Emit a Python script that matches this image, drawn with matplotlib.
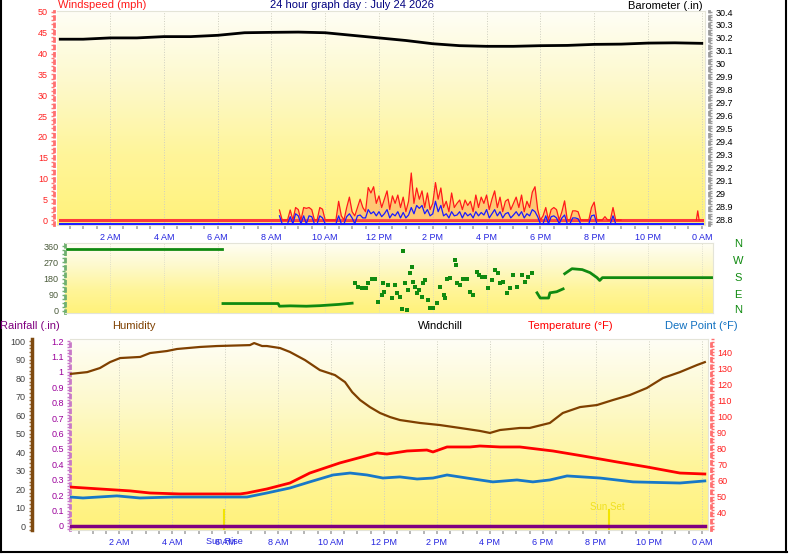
import numpy as np
import matplotlib
matplotlib.use('Agg')
import matplotlib.pyplot as plt
import matplotlib.transforms as mtransforms
from matplotlib.colors import LinearSegmentedColormap
from matplotlib.ticker import MultipleLocator, FixedLocator, FuncFormatter
from matplotlib.lines import Line2D

plt.rcParams['font.family'] = ['Liberation Sans', 'DejaVu Sans']

W, H = 798, 554

# ---------------- data ----------------
hour_ticks = [2, 4, 6, 8, 10, 12, 14, 16, 18, 20, 22, 24]
hour_labels = ['2 AM', '4 AM', '6 AM', '8 AM', '10 AM', '12 PM', '2 PM',
               '4 PM', '6 PM', '8 PM', '10 PM', '0 AM']

# barometer (in)
baro_time = [0.15, 1, 2, 3, 4, 5, 6, 7, 8, 9, 10, 11, 12, 13, 14, 15, 16,
             17, 18, 19, 20, 21, 22, 23, 24]
baro = [30.19, 30.19, 30.20, 30.20, 30.21, 30.21, 30.22, 30.24, 30.243,
        30.245, 30.24, 30.22, 30.20, 30.18, 30.155, 30.14, 30.135, 30.135,
        30.14, 30.142, 30.15, 30.152, 30.16, 30.162, 30.158]

# wind samples every 0.1 h from 8.3 h to 21.0 h (mph)
wind_start, wind_step = 8.3, 0.1
gust = [2.4, 0, 0, 0, 2.4, 0, 3,
        2.5, 0, 3, 2.8, 3, 2.5, 0, 0, 3, 2.6,
        0, 0, 0, 0, 0, 4.5, 1, 0, 3, 5.5,
        2, 1, 3, 5, 3, 2, 7.8, 6.5, 8, 4,
        5.8, 3, 5, 7, 2.5, 5.8, 4, 6, 3, 5.5,
        2, 4.5, 11.3, 4, 7.7, 5, 7, 3, 6.5, 2.5,
        4, 9, 5, 7.7, 3, 4.5, 2, 6.5, 3, 4,
        4.8, 2.5, 4.8, 3.5, 4.5, 2, 6, 3, 5.5, 4,
        6, 2.5, 5, 7, 3, 5.5, 2, 4.5, 5, 2.5,
        4, 5.5, 3, 6, 2, 4.5, 3, 6.7, 8, 2.5,
        0, 1, 3, 0, 2.5, 3, 2.5, 0, 2, 4.6,
        0, 0, 2.2, 2.2, 2, 0, 0, 0, 0, 3,
        4.3, 0, 0, 0, 0.8, 0, 0, 3, 0, 0,
        0]
speed = [1, 0, 0, 0, 0.8, 0, 1.5,
         1, 0, 1, 0, 1, 0.8, 0, 0, 1, 0.5,
         0, 0, 0, 0, 0, 1, 0, 0, 0.8, 1.5,
         0.5, 0, 1, 1.2, 0.5, 0.5, 2.5, 1.5, 2, 1,
         2, 0.8, 1.5, 2.5, 0.5, 1.5, 1, 2, 0.5, 1.8,
         0.5, 1.2, 3, 1.5, 3.5, 2.8, 3.5, 1.5, 2.5, 1,
         1.5, 4.5, 2, 3.5, 1, 1.5, 0.5, 2, 1, 1.2,
         2, 0.5, 1.8, 1, 1.5, 0.5, 2, 1, 1.8, 1.2,
         2.5, 0.5, 1.5, 2.5, 1, 2, 0.5, 1.5, 1.8, 0.5,
         1.2, 2, 1, 2, 0.5, 1.5, 1, 2.5, 2, 0.8,
         0, 0, 1, 0, 0.8, 1, 0.5, 0, 0.5, 1.2,
         0, 0, 0.5, 0.5, 0.3, 0, 0, 0, 0, 1,
         1.2, 0, 0, 0, 0, 0, 0, 1, 0, 0,
         0]
late_gust_time = [23.8, 23.85, 23.9]
late_gust = [0, 2.2, 0]

# wind direction (degrees)
dir_early_time = [0.4, 6.15]
dir_early = [343, 343]
dir_morning_time = [6.2, 8.25, 8.3, 8.7, 9.3, 9.8, 10.5, 11.0]
dir_morning = [40, 40, 25, 27, 25, 28, 35, 42]
dir_dots_time = [11.1, 11.2, 11.35, 11.5, 11.6, 11.73, 11.85, 11.97, 12.1, 12.15,
                 12.2, 12.33, 12.48, 12.6, 12.67, 12.78, 12.85, 12.9, 12.97, 13.03,
                 13.08, 13.15, 13.23, 13.27, 13.33, 13.4, 13.5, 13.6, 13.63, 13.7,
                 13.82, 13.9, 14.0, 14.15, 14.27, 14.4, 14.45, 14.52, 14.64, 14.83,
                 14.86, 14.9, 15.0, 15.13, 15.27, 15.38, 15.5, 15.65, 15.7, 15.83,
                 15.94, 16.05, 16.2, 16.3, 16.42, 16.5, 16.6, 16.75, 16.87, 16.98,
                 17.13, 17.32, 17.42, 17.53, 17.7]
dir_dots = [156, 135, 128, 128, 156, 179, 179, 49, 88, 156,
            106, 145, 71, 145, 100, 77, 10, 332, 156, 4,
            117, 213, 247, 162, 135, 100, 117, 77, 156, 173,
            60, 16, 16, 43, 135, 88, 71, 179, 185, 286,
            258, 156, 145, 179, 179, 106, 88, 219, 202, 190,
            190, 128, 173, 230, 213, 156, 162, 100, 128, 202,
            135, 202, 162, 190, 213]
dir_evening_time = [17.87, 17.99, 18.3, 18.35, 18.6, 18.84]
dir_evening = [100, 71, 71, 100, 106, 122]
dir_night_time = [18.9, 19.17, 19.55, 19.84, 20.1, 20.2, 20.3, 24.4]
dir_night = [207, 235, 230, 213, 185, 169, 185, 185]
compass = ['N', 'W', 'S', 'E', 'N']

# bottom panel
hum_time = [0.15, 0.8, 1.28, 1.66, 2.04, 2.8, 3.17, 3.81, 4.19, 5.06, 5.7, 6.94,
            7.1, 7.4, 7.58, 8.08, 8.45, 9.02, 9.58, 10.15, 10.53, 10.8, 11.1,
            11.47, 11.85, 12.23, 12.6, 13.36, 14.1, 14.87, 15.62, 16.0, 16.38,
            17.13, 17.5, 18.26, 18.75, 19.4, 20.04, 20.64, 21.28, 21.92, 22.53,
            23.17, 23.81, 24.11]
humidity = [82.2, 83.2, 85.4, 88.6, 90.8, 91.4, 93.5, 94.6, 95.7, 96.8, 97.3,
            97.8, 98.9, 97.3, 97.3, 96.2, 94.1, 89.7, 84.3, 81.6, 77.8, 72.4,
            68.1, 64.3, 61.1, 58.9, 57.3, 55.7, 54.6, 53.0, 51.4, 50.3, 51.9,
            53.0, 53.0, 55.7, 61.1, 64.3, 65.4, 68.1, 70.8, 74.6, 80.0, 83.2,
            87.0, 88.6]
temp_time = [0.15, 1.28, 2.42, 3.17, 4.3, 6.57, 6.83, 7.58, 8.45, 9.2, 10.34,
             11.74, 12.11, 12.87, 13.62, 13.85, 14.38, 15.25, 15.62, 16.38,
             17.13, 18.38, 19.51, 20.79, 21.92, 23.17, 24.11]
temperature = [56.1, 54.9, 53.7, 52.4, 51.8, 51.8, 52.4, 54.9, 58.6, 64.8, 71.1,
               77.3, 76.6, 78.5, 79.1, 77.9, 81.0, 81.0, 81.6, 81.0, 81.0, 78.5,
               75.4, 71.7, 68.6, 64.8, 64.2]
dew_time = [0.15, 0.64, 1.92, 2.79, 4.04, 5.7, 6.83, 7.58, 8.45, 9.2, 10.08,
            10.72, 11.36, 11.96, 12.6, 13.25, 13.85, 14.38, 15.13, 16.11, 17.02,
            17.62, 18.26, 18.91, 20.15, 21.4, 23.17, 24.11]
dewpoint = [49.9, 49.3, 50.6, 49.3, 49.9, 49.9, 49.9, 52.4, 55.5, 59.3, 63.6,
            64.8, 63.6, 61.7, 62.4, 61.1, 61.7, 63.6, 61.7, 59.3, 60.5, 59.3,
            60.5, 63.0, 61.7, 59.3, 58.6, 59.9]
rain_time = [0.15, 24.11]
rain = [0, 0]
sunrise, sunset = 5.96, 20.49

# ---------------- style helpers ----------------
bg_cmap = LinearSegmentedColormap.from_list(
    'bg', ['#fffef6', '#fdf9cc', '#fff59a', '#fff27a'])
xlab_color = '#2424e0'


def fig_rect(left, top, right, bottom):
    return [left / W, 1 - bottom / H, (right - left) / W, (bottom - top) / H]


def add_background(rect):
    bg = fig.add_axes(rect)
    grad = np.linspace(0, 1, 256).reshape(-1, 1)
    bg.imshow(grad, aspect='auto', cmap=bg_cmap, extent=[0, 1, 0, 1],
              origin='upper')
    bg.set_axis_off()
    return bg


def style_frame(ax):
    for s in ('top', 'bottom', 'left', 'right'):
        ax.spines[s].set_color('#e4e4d8')
        ax.spines[s].set_linewidth(0.8)


def hour_axis(ax):
    ax.xaxis.set_major_locator(FixedLocator(hour_ticks))
    ax.xaxis.set_minor_locator(MultipleLocator(0.5))
    ax.set_xticklabels(hour_labels)
    ax.tick_params(axis='x', which='both', colors='#a8a8a8', length=3,
                   width=1.2, labelsize=6.5, labelcolor=xlab_color, pad=3)
    ax.grid(axis='x', which='major', color='#cfcfc0', ls=':', lw=0.7)


def num_fmt(v, pos):
    return f'{round(v, 2):g}'


fig = plt.figure(figsize=(W / 100, H / 100), dpi=100)
fig.patch.set_facecolor('white')

# ---------------- top panel: wind + barometer ----------------
r1 = fig_rect(57, 11, 705, 225)
add_background(r1)
ax1 = fig.add_axes(r1)
ax1.patch.set_visible(False)
style_frame(ax1)
ax1.set_xlim(0.03, 24.12)
ax1.set_ylim(-1.2, 50.24)
hour_axis(ax1)
ax1.spines['left'].set_position(('outward', 2))
ax1.spines['left'].set_color('#ff7070')
ax1.spines['left'].set_linestyle(':')
ax1.spines['left'].set_linewidth(2)
ax1.yaxis.set_major_locator(MultipleLocator(5))
ax1.yaxis.set_minor_locator(MultipleLocator(1))
ax1.tick_params(axis='y', which='both', colors='#ff7a7a', labelcolor='#ff2020',
                labelsize=6.5, length=2.5, width=1.0, pad=2)

wind_time = wind_start + wind_step * np.arange(len(gust))
gust_arr = np.array(gust)
speed_arr = np.array(speed)
ax1.plot([0.15, 24.0], [0, 0], color='#ff3a3a', lw=2.2, zorder=3)
ax1.plot([0.15, 24.0], [-0.9, -0.9], color='#2020ff', lw=2.2, zorder=3)
ax1.fill_between(wind_time, 0, gust_arr, color='#ff7a5a', alpha=0.35, lw=0,
                 zorder=3)
ax1.plot(wind_time, gust_arr, color='#ff1a1a', lw=0.9, zorder=4)
ax1.plot(late_gust_time, late_gust, color='#ff1a1a', lw=0.9, zorder=4)
ax1.plot(wind_time, np.where(speed_arr > 0, speed_arr, -0.9),
         color='#1a1aff', lw=0.9, zorder=5)

ax1b = ax1.twinx()
ax1b.set_ylim(28.754, 30.408)
ax1b.plot(baro_time, baro, color='black', lw=2, zorder=4)
for s in ('top', 'bottom', 'left'):
    ax1b.spines[s].set_visible(False)
ax1b.spines['right'].set_position(('outward', 3))
ax1b.spines['right'].set_color('#9a9a9a')
ax1b.spines['right'].set_linestyle(':')
ax1b.spines['right'].set_linewidth(2)
ax1b.yaxis.set_major_locator(MultipleLocator(0.1))
ax1b.yaxis.set_minor_locator(MultipleLocator(0.02))
ax1b.yaxis.set_major_formatter(FuncFormatter(num_fmt))
ax1b.tick_params(axis='y', which='both', colors='#9a9a9a', labelcolor='black',
                 labelsize=6.5, length=2.5, width=1.0, pad=2)

fig.text(58 / W, 1 - 5 / H, 'Windspeed (mph)', color='#ff1a1a', fontsize=8,
         ha='left', va='center')
fig.text(352 / W, 1 - 5 / H, '24 hour graph day : July 24 2026', color='#000080',
         fontsize=8, ha='center', va='center')
fig.text(628 / W, 1 - 6 / H, 'Barometer (.in)', color='black', fontsize=8,
         ha='left', va='center')

# ---------------- middle panel: wind direction ----------------
r2 = fig_rect(65, 243, 713, 313)
add_background(r2)
ax2 = fig.add_axes(r2)
ax2.patch.set_visible(False)
style_frame(ax2)
ax2.set_xlim(0.33, 24.41)
ax2.set_ylim(-13, 379)
ax2.xaxis.set_major_locator(FixedLocator(hour_ticks))
ax2.tick_params(axis='x', which='both', length=0, labelbottom=False)
ax2.grid(axis='x', color='#d6d6c6', ls=':', lw=0.6)
ax2.spines['left'].set_color('#70b070')
ax2.spines['left'].set_linestyle(':')
ax2.spines['left'].set_linewidth(2)
ax2.yaxis.set_major_locator(FixedLocator([0, 90, 180, 270, 360]))
ax2.yaxis.set_minor_locator(MultipleLocator(22.5))
ax2.tick_params(axis='y', which='both', colors='#70b070', labelcolor='#4a5a3a',
                labelsize=6.5, length=2.5, width=1.0, pad=2)
green = '#108a10'
ax2.plot(dir_early_time, dir_early, color=green, lw=2)
ax2.plot(dir_morning_time, dir_morning, color=green, lw=2)
ax2.plot(dir_dots_time, dir_dots, ls='none', marker='s', ms=2.3, mew=0,
         color=green)
ax2.plot(dir_evening_time, dir_evening, color=green, lw=2)
ax2.plot(dir_night_time, dir_night, color=green, lw=2)
for lab, py in zip(compass, [244, 261, 278, 295, 310]):
    fig.text(738 / W, 1 - py / H, lab, color='#108a10', fontsize=8,
             ha='center', va='center')

# ---------------- bottom panel ----------------
r3 = fig_rect(70, 339, 708, 530)
add_background(r3)
ax3 = fig.add_axes(r3)
ax3.patch.set_visible(False)
style_frame(ax3)
ax3.set_xlim(0.15, 24.23)
ax3.set_ylim(-0.026, 1.213)
hour_axis(ax3)
ax3.spines['left'].set_color('#c878c8')
ax3.spines['left'].set_linestyle(':')
ax3.spines['left'].set_linewidth(2)
ax3.yaxis.set_major_locator(MultipleLocator(0.1))
ax3.yaxis.set_minor_locator(MultipleLocator(0.02))
ax3.yaxis.set_major_formatter(FuncFormatter(num_fmt))
ax3.tick_params(axis='y', which='both', colors='#c878c8', labelcolor='#9b009b',
                labelsize=6.5, length=2.5, width=1.0, pad=2)
ax3.plot(rain_time, rain, color='#800080', lw=2.5, zorder=5)

# sunrise / sunset markers
tr = mtransforms.blended_transform_factory(ax3.transData, ax3.transAxes)
ax3.plot([sunrise, sunrise], [0, 0.105], transform=tr, color='#f2e400', lw=1.5)
ax3.plot([sunset, sunset], [0, 0.105], transform=tr, color='#f2e400', lw=1.5)
ax3.text(sunrise, -0.058, 'Sun Rise', transform=tr, ha='center', va='center',
         fontsize=6.5, color=xlab_color)
ax3.text(sunset - 0.07, 0.12, 'Sun Set', transform=tr, ha='center', va='center',
         fontsize=7, color='#f0e020')

# humidity axis (far left)
ax3h = ax3.twinx()
ax3h.set_ylim(-2.16, 101.1)
for s in ('top', 'bottom', 'right'):
    ax3h.spines[s].set_visible(False)
ax3h.spines['left'].set_visible(True)
ax3h.spines['left'].set_position(('axes', -38 / 638))
ax3h.spines['left'].set_color('#7f4a10')
ax3h.spines['left'].set_linewidth(2.5)
ax3h.yaxis.set_ticks_position('left')
ax3h.yaxis.set_label_position('left')
ax3h.yaxis.set_major_locator(MultipleLocator(10))
ax3h.yaxis.set_minor_locator(MultipleLocator(2))
ax3h.tick_params(axis='y', which='both', colors='#9a7040', labelcolor='#404040',
                 labelsize=6.5, length=2.5, width=1.0, pad=2)
ax3h.plot(hum_time, humidity, color='#7f4000', lw=1.6, zorder=4)

# temperature axis (right)
ax3t = ax3.twinx()
ax3t.set_ylim(29.4, 148.1)
for s in ('top', 'bottom', 'left'):
    ax3t.spines[s].set_visible(False)
ax3t.spines['right'].set_position(('outward', 2))
ax3t.spines['right'].set_color('#ff7070')
ax3t.spines['right'].set_linestyle(':')
ax3t.spines['right'].set_linewidth(2)
ax3t.yaxis.set_major_locator(FixedLocator(list(range(40, 150, 10))))
ax3t.yaxis.set_minor_locator(MultipleLocator(2))
ax3t.tick_params(axis='y', which='both', colors='#ff7070', labelcolor='#ff2020',
                 labelsize=6.5, length=2.5, width=1.0, pad=2)
ax3t.plot(temp_time, temperature, color='#ff0000', lw=2, zorder=4)
ax3t.plot(dew_time, dewpoint, color='#1878c8', lw=2, zorder=4)

for label, px, color in [('Rainfall (.in)', 0, '#800080'),
                         ('Humidity', 112, '#7f4000'),
                         ('Windchill', 418, 'black'),
                         ('Temperature (°F)', 528, '#ff0000'),
                         ('Dew Point (°F)', 665, '#1070c0')]:
    fig.text(px / W, 1 - 326 / H, label, color=color, fontsize=8,
             ha='left', va='center')

# outer frame
for xs, ys in [([1, 1], [0, 552]), ([0, 787], [552, 552]), ([786, 786], [0, 552])]:
    fig.add_artist(Line2D([x / W for x in xs], [1 - y / H for y in ys],
                          color='black', lw=1.5))

fig.savefig('out.png', dpi=100)
